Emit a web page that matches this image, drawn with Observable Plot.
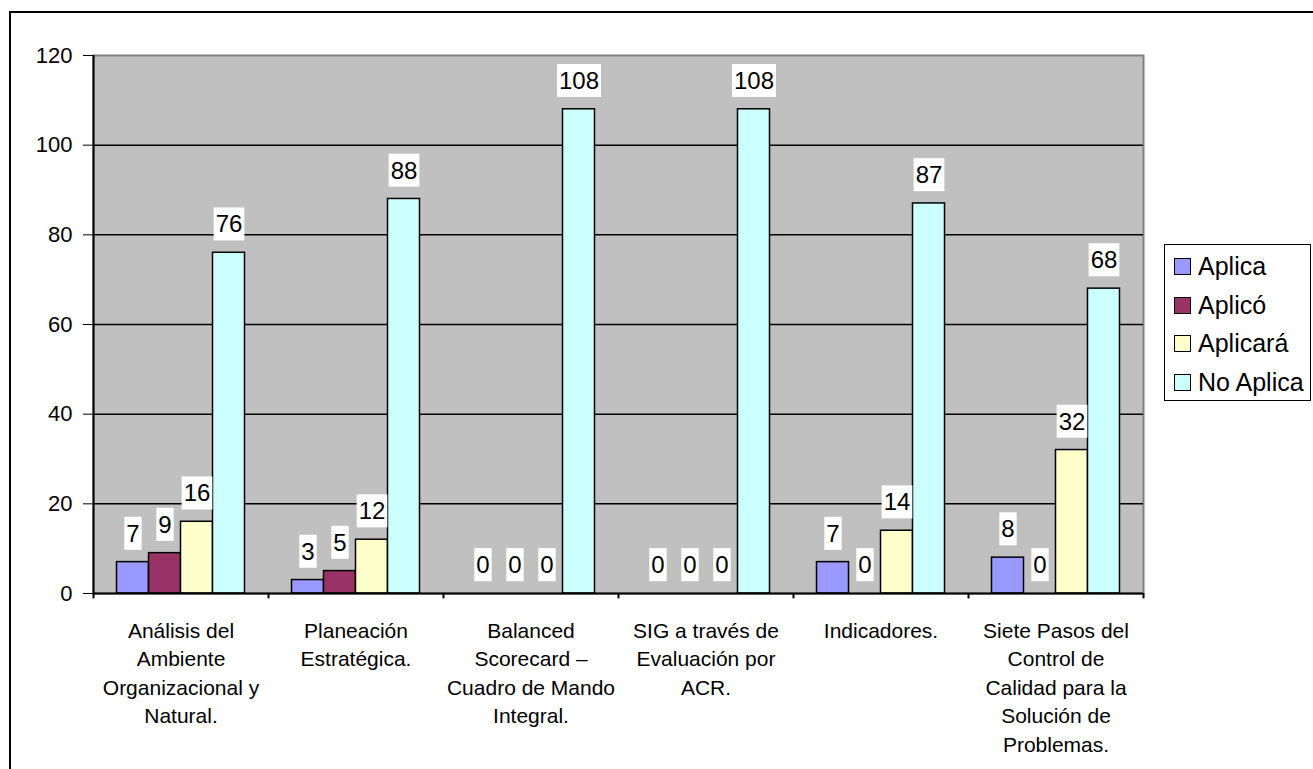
<!DOCTYPE html>
<html><head><meta charset="utf-8">
<script src="https://cdn.jsdelivr.net/npm/d3@7"></script>
<script src="https://cdn.jsdelivr.net/npm/@observablehq/plot@0.6"></script>
<style>
html,body{margin:0;padding:0;background:#fff;overflow:hidden;}
#wrap{position:relative;width:1313px;height:769px;font-family:"Liberation Sans",Arial,sans-serif;}
#chart{position:absolute;left:0;top:0;}
#border{position:absolute;left:9px;top:11px;width:1400px;height:900px;border:2px solid #000;pointer-events:none;z-index:5;}
#legend{position:absolute;left:1164px;top:244px;width:145px;height:155px;border:1px solid #000;background:#fff;z-index:4;}
.item{position:absolute;left:9px;height:38px;display:flex;align-items:center;font-size:25px;color:#000;white-space:nowrap;}
.sw{width:15px;height:15px;border:1px solid #000;margin-right:7px;flex:none;}
</style></head>
<body><div id="wrap"><div id="chart"></div><div id="legend"></div><div id="border"></div></div>
<script>
const categories = [
  "Análisis del\nAmbiente\nOrganizacional y\nNatural.",
  "Planeación\nEstratégica.",
  "Balanced\nScorecard –\nCuadro de Mando\nIntegral.",
  "SIG a través de\nEvaluación por\nACR.",
  "Indicadores.",
  "Siete Pasos del\nControl de\nCalidad para la\nSolución de\nProblemas."
];
const seriesNames = ["Aplica", "Aplicó", "Aplicará", "No Aplica"];
const aplica   = [7, 3, 0, 0, 7, 8];
const aplico   = [9, 5, 0, 0, 0, 0];
const aplicara = [16, 12, 0, 0, 14, 32];
const noAplica = [76, 88, 108, 108, 87, 68];
const seriesColors = ["#9999FF", "#993366", "#FFFFCC", "#CCFFFF"];
const yTicks = [0, 20, 40, 60, 80, 100, 120];

const seriesValues = [aplica, aplico, aplicara, noAplica];
const rows = [];
seriesNames.forEach((s, j) => categories.forEach((c, i) => rows.push({cat: c, series: s, value: seriesValues[j][i]})));

const W = 1313, H = 769, mL = 93, mR = 170, mT = 55, mB = 176;
const bw = (W - mL - mR) / categories.length;
const barW = 32;
const gap = (bw - seriesNames.length * barW) / 2;

const marks = [
  Plot.frame({fill: "#c0c0c0", stroke: "#808080", strokeWidth: 2}),
  Plot.ruleY(yTicks.filter(t => t > 0 && t < 120), {stroke: "#000", strokeWidth: 1.5})
];
seriesNames.forEach((s, j) => {
  marks.push(Plot.barY(rows.filter(r => r.series === s && r.value > 0), {
    x: "cat", y: "value", fill: seriesColors[j], stroke: "#000", strokeWidth: 1.5,
    insetLeft: gap + j * barW, insetRight: bw - gap - (j + 1) * barW
  }));
});
marks.push(Plot.ruleY([0], {stroke: "#000", strokeWidth: 2}));
marks.push(Plot.ruleX([categories[0]], {dx: -bw / 2, stroke: "#000", strokeWidth: 2}));
marks.push(Plot.ruleX(categories, {dx: -bw / 2, y1: 0, y2: -1.2, stroke: "#000", strokeWidth: 2}));
marks.push(Plot.ruleX([categories[categories.length - 1]], {dx: bw / 2, y1: 0, y2: -1.2, stroke: "#000", strokeWidth: 2}));
marks.push(Plot.text(categories, {x: d => d, frameAnchor: "bottom", dy: 24, lineAnchor: "top", lineHeight: 1.36, fontSize: 21, fill: "#000"}));
seriesNames.forEach((s, j) => {
  marks.push(Plot.text(rows.filter(r => r.series === s), {
    x: "cat", y: "value", text: d => String(d.value),
    dx: gap + barW * (j + 0.5) - bw / 2, dy: -28, fontSize: 24, fill: "#000", ariaDescription: "data-label"
  }));
});

const chart = Plot.plot({
  width: W, height: H,
  marginLeft: mL, marginRight: mR, marginTop: mT, marginBottom: mB,
  style: {fontSize: "22px", fontFamily: "Liberation Sans, Arial, sans-serif", background: "transparent", color: "#000", overflow: "visible"},
  x: {type: "band", domain: categories, padding: 0, axis: null},
  y: {domain: [0, 120], ticks: yTicks, tickSize: 10, tickPadding: 11, label: null},
  marks
});
document.getElementById("chart").appendChild(chart);

chart.querySelectorAll('g[aria-description="data-label"] text').forEach(t => {
  const bb = t.getBBox();
  const r = document.createElementNS("http://www.w3.org/2000/svg", "rect");
  r.setAttribute("x", bb.x - 2);
  r.setAttribute("y", bb.y - 3);
  r.setAttribute("width", bb.width + 4);
  r.setAttribute("height", bb.height + 6);
  r.setAttribute("fill", "#fff");
  r.setAttribute("stroke", "none");
  const tr = t.getAttribute("transform");
  if (tr) r.setAttribute("transform", tr);
  t.parentNode.insertBefore(r, t);
});

const legend = document.getElementById("legend");
seriesNames.forEach((s, j) => {
  const it = document.createElement("div");
  it.className = "item";
  it.style.top = (21.5 + j * 38.5 - 19) + "px";
  const sw = document.createElement("div");
  sw.className = "sw";
  sw.style.background = seriesColors[j];
  const tx = document.createElement("span");
  tx.textContent = s;
  it.appendChild(sw); it.appendChild(tx);
  legend.appendChild(it);
});
</script></body></html>
